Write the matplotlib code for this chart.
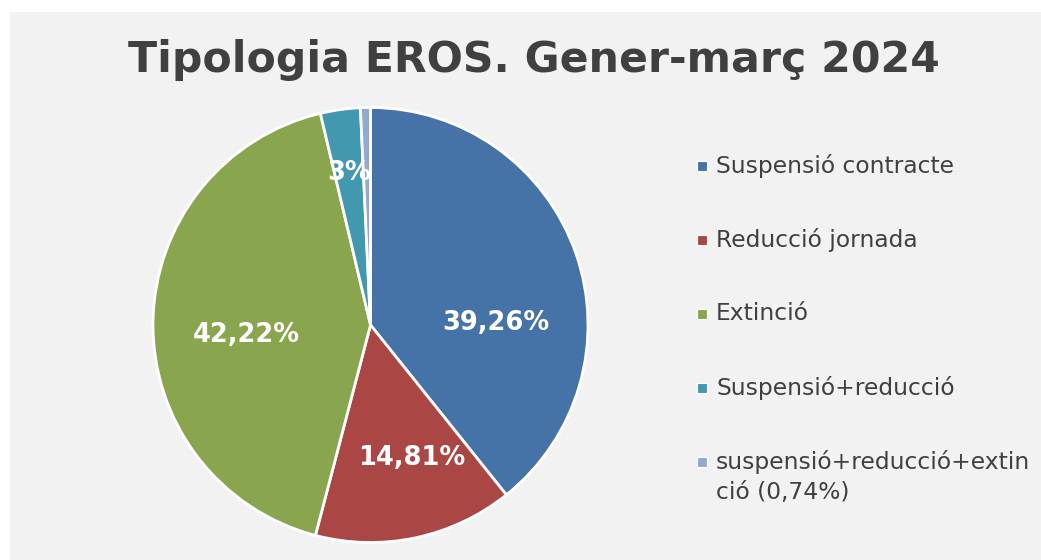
import matplotlib.pyplot as plt
from matplotlib.patches import Rectangle

# data
categories = ["Suspensió contracte", "Reducció jornada", "Extinció",
              "Suspensió+reducció", "suspensió+reducció+extin\nció (0,74%)"]
shares = [39.26, 14.81, 42.22, 2.96, 0.74]
pct_labels = ["39,26%", "14,81%", "42,22%", "3%", ""]
colors = ["#4572A7", "#AA4643", "#89A54E", "#4198AF", "#93A9CF"]

# where Excel put the data labels (pie units, radius = 1)
label_xy = [(0.575, 0.01), (0.19, -0.61), (-0.572, -0.046), (-0.099, 0.70), (0, 0)]

W, H = 1041, 560
fig = plt.figure(figsize=(W / 100, H / 100), dpi=100)
fig.patch.set_facecolor("white")
fig.patches.append(Rectangle((10 / W, 0), 1 - 10 / W, 1 - 12 / H,
                             transform=fig.transFigure, facecolor="#F2F2F2",
                             edgecolor="none", zorder=-10))

txt = "#404040"
fig.text(534 / W, 1 - 60 / H, "Tipologia EROS. Gener-març 2024", ha="center", va="center",
         fontsize=30.7, fontweight="bold", color=txt)

# pie
cx, cy, r = 370.5, 325, 217.5
ax = fig.add_axes([(cx - r) / W, (H - cy - r) / H, 2 * r / W, 2 * r / H])
ax.pie(shares, colors=colors, startangle=90, counterclock=False,
       wedgeprops=dict(edgecolor="white", linewidth=2))
ax.set_xlim(-1, 1)
ax.set_ylim(-1, 1)
ax.set_aspect("equal")
ax.axis("off")
for (x, y), s in zip(label_xy, pct_labels):
    if s:
        ax.text(x, y, s, ha="center", va="center", color="white",
                fontsize=18.5, fontweight="bold")

# legend drawn by hand
ys = [166, 240, 314, 388, 462]
for y, c, lab in zip(ys, colors, categories):
    fig.patches.append(Rectangle((697 / W, 1 - (y + 5) / H), 10 / W, 10 / H,
                                 transform=fig.transFigure, facecolor=c,
                                 edgecolor="white", linewidth=0.8))
    if "\n" in lab:
        fig.text(716 / W, 1 - (y - 12) / H, lab, ha="left", va="top",
                 fontsize=16.8, color=txt, linespacing=1.38)
    else:
        fig.text(716 / W, 1 - y / H, lab, ha="left", va="center",
                 fontsize=16.8, color=txt)

fig.savefig("out.png", dpi=100, facecolor=fig.get_facecolor())
